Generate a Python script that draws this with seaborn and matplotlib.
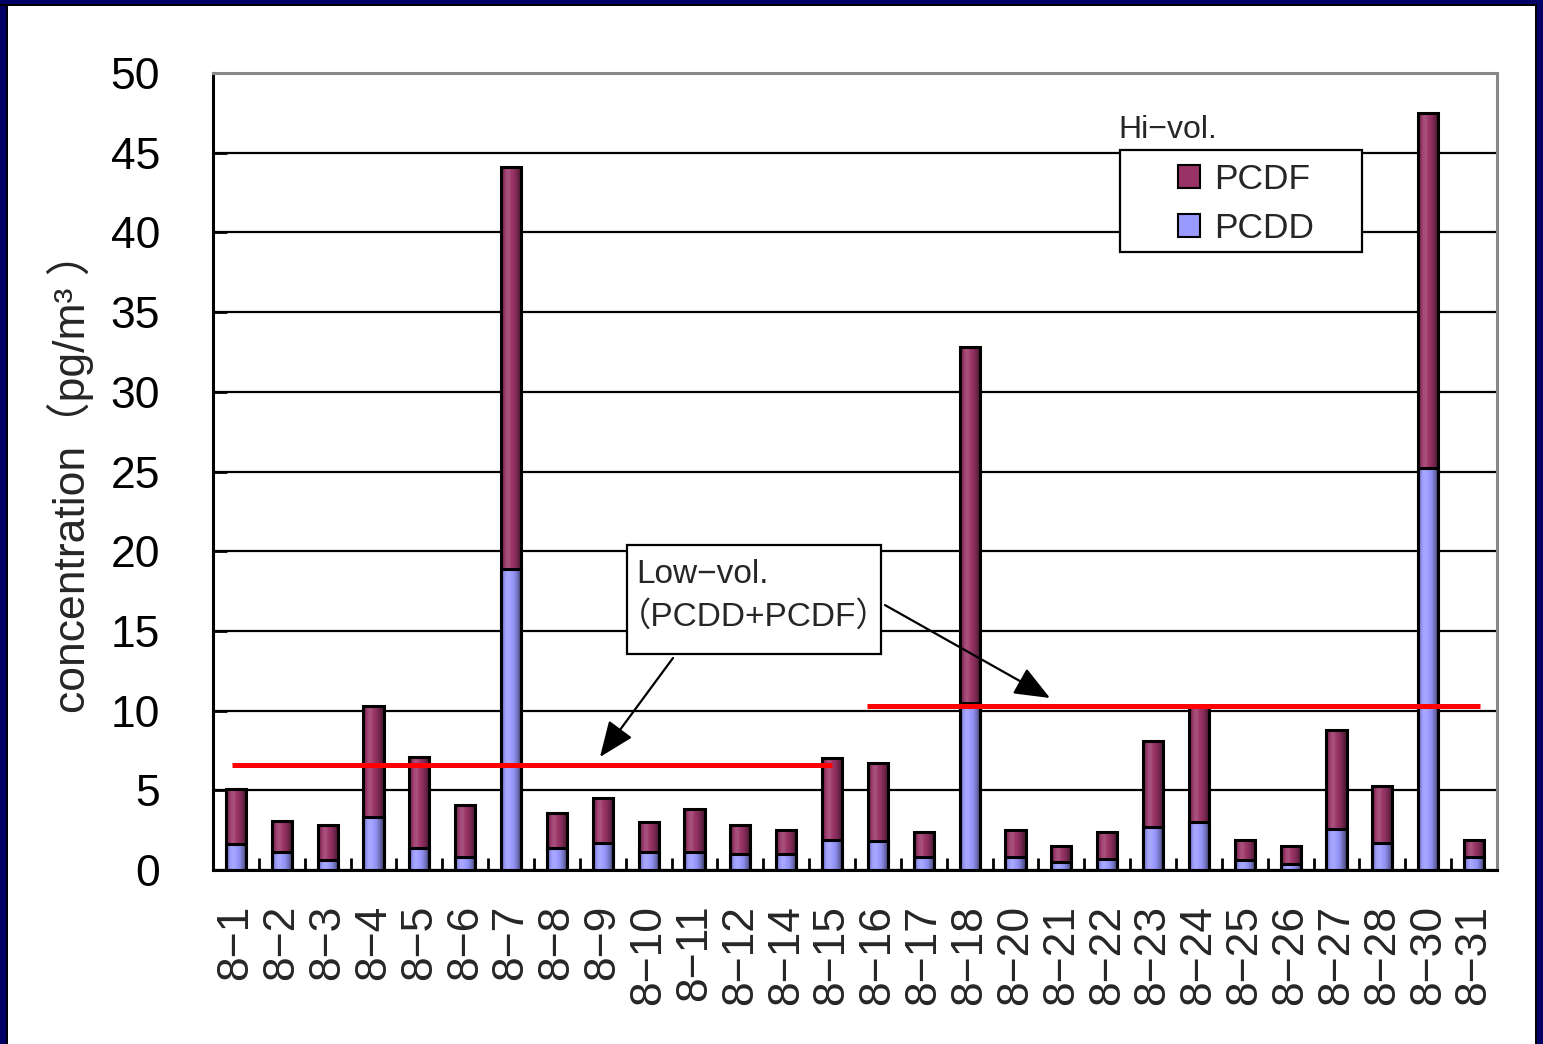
import numpy as np
import pandas as pd
import matplotlib
matplotlib.use("Agg")
import matplotlib.pyplot as plt
from matplotlib.patches import Rectangle, Patch
from matplotlib.colors import to_rgb
import seaborn as sns

# Sampling dates (August)
dates = ["8−1", "8−2", "8−3", "8−4", "8−5", "8−6", "8−7", "8−8", "8−9", "8−10",
         "8−11", "8−12", "8−14", "8−15", "8−16", "8−17", "8−18", "8−20", "8−21",
         "8−22", "8−23", "8−24", "8−25", "8−26", "8−27", "8−28", "8−30", "8−31"]

# Hi-vol. sampler results, pg/m3
pcdd = [1.6, 1.1, 0.6, 3.3, 1.4, 0.8, 18.9, 1.4, 1.7, 1.1,
        1.1, 1.0, 1.0, 1.9, 1.8, 0.8, 10.5, 0.8, 0.5,
        0.7, 2.7, 3.0, 0.6, 0.4, 2.6, 1.7, 25.2, 0.8]
pcdf = [3.5, 2.0, 2.2, 7.0, 5.7, 3.3, 25.2, 2.2, 2.8, 1.9,
        2.7, 1.8, 1.5, 5.1, 4.9, 1.6, 22.3, 1.7, 1.0,
        1.7, 5.4, 7.3, 1.3, 1.1, 6.2, 3.6, 22.3, 1.1]

# Low-vol. sampler (PCDD+PCDF), two sampling periods
lowvol_levels = [6.6, 10.3]

PCDF_COLOR = "#993366"
PCDD_COLOR = "#9999FF"
NAVY = "#000066"

sns.set_style("white")
plt.rcParams["font.family"] = ["Liberation Sans", "Noto Sans CJK JP"]

W, H = 1543, 1044
fig = plt.figure(figsize=(W / 100, H / 100), dpi=100)
fig.patch.set_facecolor("white")
ax = fig.add_axes([213 / W, 1 - 870 / H, (1497 - 213) / W, (870 - 73) / H])

df = pd.DataFrame({"date": dates, "PCDD": pcdd, "PCDF": pcdf})
df["total"] = df["PCDD"] + df["PCDF"]

bar_kw = dict(width=0.44, edgecolor="black", linewidth=2.2, saturation=1,
              errorbar=None, ax=ax, zorder=3)
sns.barplot(data=df, x="date", y="total", color=PCDF_COLOR, **bar_kw)
n_top = len(ax.patches)
sns.barplot(data=df, x="date", y="PCDD", color=PCDD_COLOR, **bar_kw)
top_bars = ax.patches[:n_top]
bottom_bars = ax.patches[n_top:]


def cylinder_shade(patches, base):
    """Fill each bar with a horizontal light/dark profile (cylinder look)."""
    rgb = np.array(to_rgb(base))
    prof = np.array([-0.35, -0.1, 0.12, 0.15, 0.02, -0.05, -0.2, -0.4, -0.55])
    cols = []
    for v in prof:
        if v >= 0:
            cols.append(rgb + (1 - rgb) * v)
        else:
            cols.append(rgb * (1 + v))
    cols = np.array(cols)
    xs = np.linspace(0, 1, len(prof))
    xi = np.linspace(0, 1, 60)
    img = np.stack([np.interp(xi, xs, cols[:, k]) for k in range(3)], axis=-1)[None, :, :]
    for p in patches:
        x0, y0 = p.get_x(), p.get_y()
        w, h = p.get_width(), p.get_height()
        ax.imshow(img, extent=(x0, x0 + w, y0, y0 + h), aspect="auto",
                  interpolation="bilinear", zorder=3.05)
        p.set_facecolor("none")
        p.set_zorder(3.1)


cylinder_shade(top_bars, PCDF_COLOR)
cylinder_shade(bottom_bars, PCDD_COLOR)

ax.set_xlim(-0.5, 27.5)
ax.set_ylim(0, 50)
ax.set_aspect("auto")
ax.set_yticks(range(0, 51, 5))
ax.set_xlabel("")
ax.set_ylabel("concentration（pg/m³ ）", fontsize=32)
ax.yaxis.set_label_coords(-0.093, 0.5)

ax.tick_params(axis="y", direction="in", length=10, width=2, pad=38,
               labelsize=32, colors="black", left=True)
ax.tick_params(axis="x", which="major", length=0, pad=25, labelsize=32,
               labelrotation=90)
ax.set_xticks(np.arange(0.5, 27.5, 1), minor=True)
ax.tick_params(axis="x", which="minor", direction="in", length=9, width=2,
               bottom=True, colors="black")

ax.yaxis.grid(True, color="black", linewidth=1.6)
ax.xaxis.grid(False)
ax.set_axisbelow(True)
for side in ["left", "bottom"]:
    ax.spines[side].set_color("black")
    ax.spines[side].set_linewidth(2.2)
for side in ["top", "right"]:
    ax.spines[side].set_color("#888888")
    ax.spines[side].set_linewidth(2.2)

# Low-vol. averages for each period
ax.hlines(lowvol_levels[0], -0.09, 13.0, color="red", linewidth=3.6, zorder=5)
ax.hlines(lowvol_levels[1], 13.76, 27.13, color="red", linewidth=3.6, zorder=5)

# Callout box for the low-vol. lines
ax.add_patch(Rectangle((8.528, 13.55), 14.067 - 8.528, 20.39 - 13.55,
                       facecolor="white", edgecolor="black", linewidth=1.6,
                       zorder=6))
ax.text(8.724, 18.51, "Low−vol.", fontsize=24, va="center", ha="left", zorder=7)
ax.text(8.33, 15.87, "（PCDD+PCDF）", fontsize=24, va="center", ha="left", zorder=7)
arrow_kw = dict(arrowstyle="-|>,head_length=1.1,head_width=0.45",
                mutation_scale=20, lw=1.6, color="black", shrinkA=0, shrinkB=0)
ax.annotate("", xy=(7.939, 7.09), xytext=(9.531, 13.30),
            arrowprops=arrow_kw, zorder=7)
ax.annotate("", xy=(17.752, 10.79), xytext=(14.154, 16.62),
            arrowprops=arrow_kw, zorder=7)

# Legend for the Hi-vol. series
fig.add_artist(Rectangle((1120 / W, 1 - 252 / H), 242 / W, 102 / H,
                         transform=fig.transFigure, facecolor="white",
                         edgecolor="black", linewidth=1.6, zorder=4))
fig.text(1118 / W, 1 - 130 / H, "Hi−vol.", fontsize=23, va="center", ha="left")
handles = [Patch(facecolor=PCDF_COLOR, edgecolor="black", linewidth=1.5),
           Patch(facecolor=PCDD_COLOR, edgecolor="black", linewidth=1.5)]
leg = fig.legend(handles, ["PCDF", "PCDD"], loc="center",
                 bbox_to_anchor=(1246 / W, 1 - 204 / H),
                 bbox_transform=fig.transFigure, frameon=False, fontsize=25.5,
                 handlelength=0.62, handleheight=0.62, handletextpad=0.4,
                 labelspacing=0.45, borderpad=0)
leg.set_zorder(5)

# Slide frame
frame = [((0, 0), 6 / W, 1, NAVY), ((6 / W, 0), 2 / W, 1 - 4 / H, "black"),
         ((0, 1 - 4 / H), 1, 4 / H, NAVY), ((0, 1 - 6 / H), 1, 2 / H, "black"),
         ((1 - 6 / W, 0), 6 / W, 1, NAVY), ((1 - 8 / W, 0), 2 / W, 1 - 4 / H, "black")]
for xy, w, h, c in frame:
    fig.add_artist(Rectangle(xy, w, h, transform=fig.transFigure,
                             facecolor=c, edgecolor="none", zorder=10))

fig.savefig("out.png", dpi=100)
